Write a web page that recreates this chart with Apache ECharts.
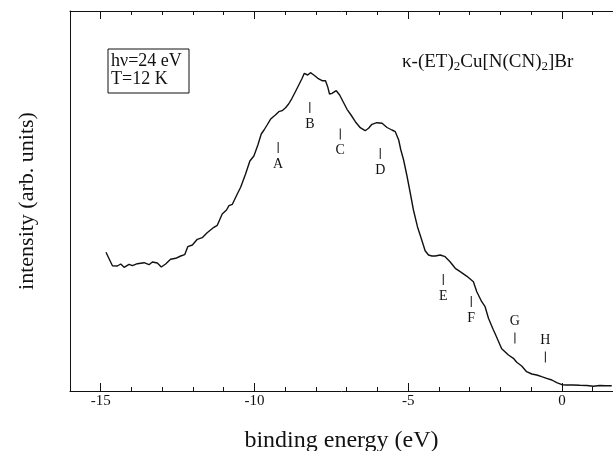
<!DOCTYPE html>
<html><head><meta charset="utf-8">
<script src="https://cdn.jsdelivr.net/npm/echarts@6/dist/echarts.min.js"></script>
<style>html,body{margin:0;padding:0;background:#fff}#c{width:613px;height:451px}</style>
</head><body><div id="c"></div>
<script>
// binding energy (eV) and intensity (arb. units)
const energy = [-14.83,-14.62,-14.46,-14.35,-14.24,-14.08,-13.97,-13.81,-13.59,-13.43,-13.32,-13.16,-13.03,-12.89,-12.73,-12.56,-12.40,-12.27,-12.17,-12.02,-11.86,-11.70,-11.54,-11.32,-11.21,-11.05,-10.91,-10.83,-10.72,-10.56,-10.45,-10.29,-10.15,-10.02,-9.89,-9.78,-9.69,-9.59,-9.48,-9.39,-9.32,-9.21,-9.10,-8.99,-8.89,-8.83,-8.78,-8.67,-8.56,-8.45,-8.38,-8.27,-8.18,-8.07,-7.94,-7.80,-7.69,-7.62,-7.56,-7.48,-7.34,-7.23,-7.19,-7.10,-6.99,-6.86,-6.72,-6.56,-6.40,-6.29,-6.18,-6.02,-5.85,-5.69,-5.53,-5.42,-5.31,-5.24,-5.15,-5.04,-4.94,-4.83,-4.70,-4.56,-4.45,-4.34,-4.23,-4.12,-3.96,-3.80,-3.64,-3.47,-3.31,-3.09,-2.88,-2.77,-2.61,-2.50,-2.39,-2.23,-2.18,-1.96,-1.74,-1.58,-1.47,-1.31,-1.15,-0.98,-0.82,-0.66,-0.50,-0.33,-0.17,0.00,0.15,0.36,0.58,0.81,1.02,1.23,1.43,1.62];
const intensity = [138.7,125.3,125,127,123.7,126.7,125.3,127.3,128.3,126.3,129,128,124,127,131.7,132.7,135,136.3,144.3,146,151.7,153.3,158.3,163.7,165.7,177,181,185.3,186.7,197,203.7,217,230,235,246,257,261,266,271.7,274.3,276,279.3,280.3,283.3,287,287.7,292.7,299.3,306,312.7,317.7,316,318.3,316,312.7,310.3,310.3,304.3,297,297.7,300.3,296,294.3,288.3,281.7,276,269.3,263.3,260.3,262.7,266.7,268.3,267.7,263.5,261,259.3,251,241,231,215,199,181,164.3,151,140.3,136,135,135,136,134.3,129.3,122.7,119.3,114.7,109.3,99.3,89.3,84.3,72.7,61,57.7,42.3,36,32.7,28.7,25,19.3,17,16,14.3,12.7,11,8.3,6.3,6,6,5.7,5.5,4.7,5.5,5.2,5.3];

// feature markers
const markerLetters = ['A','B','C','D','E','F','G','H'];
const markerEnergy  = [-9.23,-8.20,-7.21,-5.91,-3.86,-2.95,-1.53,-0.54];
const markerLevel   = [243.5,283.5,257,237.5,111.5,89.5,53,34];
const markerSide    = ['bottom','bottom','bottom','bottom','bottom','bottom','top','top'];

// axis ticks
const majorTicks = [-15,-10,-5,0];
const minorTicks = [-16,-15,-14,-13,-12,-11,-10,-9,-8,-7,-6,-5,-4,-3,-2,-1,0,1];

const FONT = "'Liberation Serif','DejaVu Serif',serif";
const INK = '#111';
const xMin = -16, xMax = 1.66;

function xAx(pos, withLabels, ticks, len, showLine, extra) {
  return Object.assign({
    type: 'value', position: pos, min: xMin, max: xMax,
    axisLine: {show: showLine, onZero: false, lineStyle: {color: INK, width: 1}},
    axisTick: {show: true, inside: true, length: len, customValues: ticks, lineStyle: {color: INK, width: 1}},
    axisLabel: withLabels ? {show: true, customValues: majorTicks, color: INK, fontFamily: FONT, fontSize: 15, margin: 3} : {show: false},
    splitLine: {show: false}
  }, extra || {});
}

const chart = echarts.init(document.getElementById('c'), null, {renderer: 'canvas'});
chart.setOption({
  animation: false,
  backgroundColor: '#fff',
  grid: {left: 70, right: 0, top: 11, bottom: 60, containLabel: false, outerBoundsMode: 'none'},
  xAxis: [
    xAx('bottom', true, majorTicks, 8, true, {
      name: 'binding energy (eV)', nameLocation: 'middle', nameGap: 38,
      nameTextStyle: {color: INK, fontFamily: FONT, fontSize: 24}
    }),
    xAx('bottom', false, minorTicks, 4, false),
    xAx('top', false, majorTicks, 8, true),
    xAx('top', false, minorTicks, 4, false)
  ],
  yAxis: {
    type: 'value', min: 0, max: 380,
    axisLine: {show: true, onZero: false, lineStyle: {color: INK, width: 1}},
    axisTick: {show: false}, axisLabel: {show: false}, splitLine: {show: false},
    name: 'intensity (arb. units)', nameLocation: 'middle', nameGap: 32, nameRotate: 90,
    nameTextStyle: {color: INK, fontFamily: FONT, fontSize: 22}
  },
  series: [
    {
      type: 'line', xAxisIndex: 0,
      data: energy.map((e, i) => [e, intensity[i]]),
      showSymbol: false, smooth: false,
      lineStyle: {color: INK, width: 1.4}
    },
    {
      type: 'scatter', xAxisIndex: 0,
      data: markerLetters.map((l, i) => ({
        value: [markerEnergy[i], markerLevel[i]],
        label: {show: true, formatter: l, position: markerSide[i], distance: 4,
                color: INK, fontFamily: FONT, fontSize: 14, opacity: 1}
      })),
      symbol: 'rect', symbolSize: [1, 11],
      itemStyle: {color: INK, opacity: 1}
    }
  ],
  graphic: [
    {type: 'rect', shape: {x: 108, y: 49, width: 81, height: 44},
     style: {fill: 'none', stroke: INK, lineWidth: 1}},
    {type: 'text', x: 111, y: 52,
     style: {text: 'hν=24 eV\nT=12 K', font: '18px ' + FONT, fill: INK, lineHeight: 18}},
    {type: 'text', x: 402, y: 62,
     style: {
       text: 'κ-(ET){s|2}Cu[N(CN){s|2}]Br',
       font: '19px ' + FONT, fill: INK, verticalAlign: 'middle',
       rich: {s: {fontSize: 13, fontFamily: FONT, padding: [10, 0, 0, 0], fill: INK}}
     }}
  ]
});
</script></body></html>
